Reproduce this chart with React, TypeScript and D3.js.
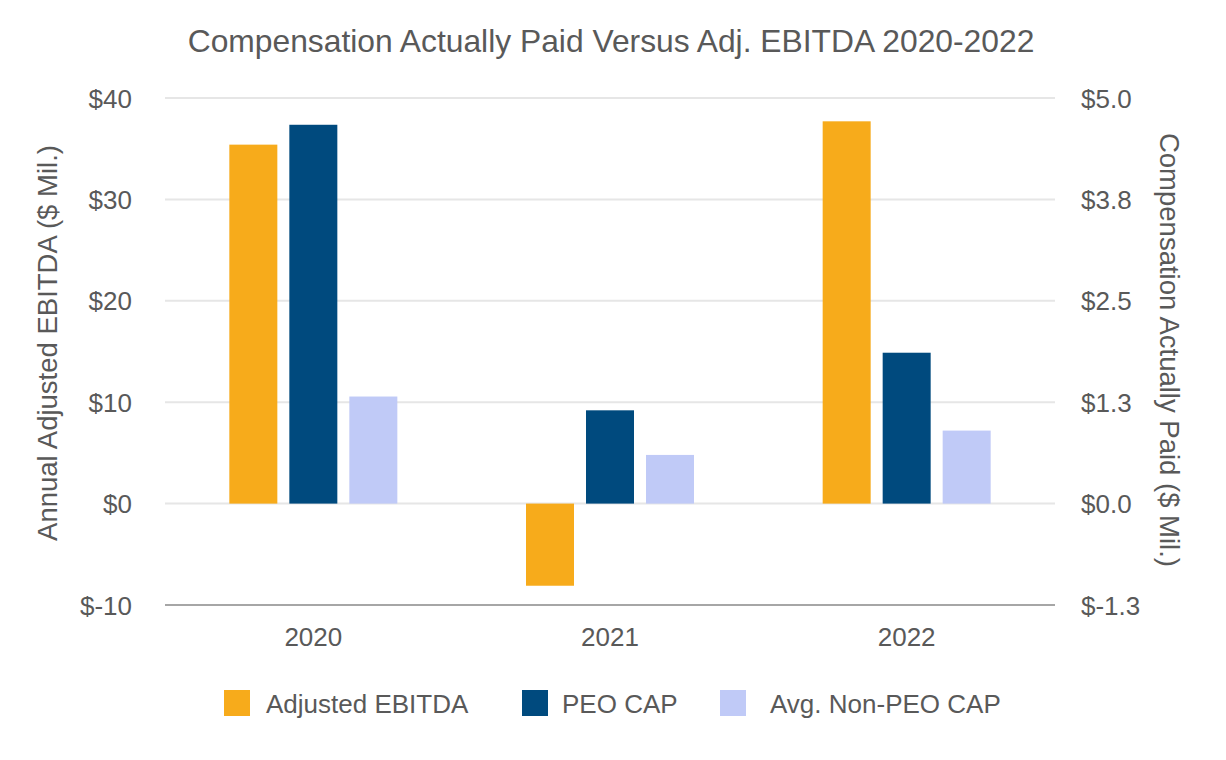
import React from "react";
import * as d3 from "d3";

const years = ["2020", "2021", "2022"];
const ebitda = [35.4, -8.1, 37.7]; // $ Mil., left axis
const peoCap = [4.67, 1.15, 1.86]; // $ Mil., right axis
const nonPeoCap = [1.32, 0.6, 0.9]; // $ Mil., right axis
const seriesNames = ["Adjusted EBITDA", "PEO CAP", "Avg. Non-PEO CAP"];
const seriesColors = ["#F7AB1B", "#004A7E", "#C0CAF7"];
const leftTicks = [-10, 0, 10, 20, 30, 40];
const rightTicks = [-1.25, 0, 1.25, 2.5, 3.75, 5];

const W = 1226;
const H = 760;
const M = { left: 165, right: 1055, top: 98, bottom: 605 };
const FONT = "'Liberation Sans', Arial, sans-serif";
const TXT = "#595959";

const fmtLeft = (v: number) => "$" + String(v);
const fmtRight = (v: number) => {
  const r = Math.round(Math.abs(v) * 10 + 0.001) / 10;
  return "$" + (v < 0 ? "-" : "") + r.toFixed(1);
};

export default function App() {
  const x0 = d3.scaleBand().domain(years).range([M.left, M.right]).padding(0);
  const x1 = d3.scaleBand().domain(seriesNames).range([-84, 84]).paddingInner(0.2).paddingOuter(0);
  const yL = d3.scaleLinear().domain([-10, 40]).range([M.bottom, M.top]);
  const yR = d3.scaleLinear().domain([-1.25, 5]).range([M.bottom, M.top]);

  const bars: { key: string; x: number; y0: number; y1: number; color: string }[] = [];
  years.forEach((yr, i) => {
    const cx = (x0(yr) as number) + x0.bandwidth() / 2;
    const vals = [
      { s: 0, top: yL(Math.max(ebitda[i], 0)), bot: yL(Math.min(ebitda[i], 0)) },
      { s: 1, top: yR(Math.max(peoCap[i], 0)), bot: yR(Math.min(peoCap[i], 0)) },
      { s: 2, top: yR(Math.max(nonPeoCap[i], 0)), bot: yR(Math.min(nonPeoCap[i], 0)) },
    ];
    vals.forEach((v) => {
      bars.push({
        key: yr + v.s,
        x: cx + (x1(seriesNames[v.s]) as number),
        y0: v.top,
        y1: v.bot,
        color: seriesColors[v.s],
      });
    });
  });

  const legendItems = [
    { sq: 224, tx: 266 },
    { sq: 522, tx: 562 },
    { sq: 720, tx: 770 },
  ];

  return (
    <svg width={W} height={H} style={{ position: "absolute", left: 0, top: 0, background: "#fff" }} fontFamily={FONT}>
      <rect x={0} y={0} width={W} height={H} fill="#fff" />
      <text x={611} y={52} textAnchor="middle" fontSize={31.8} fill={TXT}>
        Compensation Actually Paid Versus Adj. EBITDA 2020-2022
      </text>
      {leftTicks.slice(1).map((t) => (
        <line key={"g" + t} x1={M.left} x2={M.right} y1={yL(t)} y2={yL(t)} stroke="#E6E6E6" strokeWidth={2} />
      ))}
      {leftTicks.map((t) => (
        <text key={"l" + t} x={132} y={yL(t) + 9.5} textAnchor="end" fontSize={26} fill={TXT}>
          {fmtLeft(t)}
        </text>
      ))}
      {rightTicks.map((t) => (
        <text key={"r" + t} x={1081} y={yR(t) + 9.5} textAnchor="start" fontSize={26} fill={TXT}>
          {fmtRight(t)}
        </text>
      ))}
      {bars.map((b) => (
        <rect key={b.key} x={b.x} y={b.y0} width={x1.bandwidth()} height={b.y1 - b.y0} fill={b.color} />
      ))}
      <line x1={M.left} x2={M.right} y1={M.bottom} y2={M.bottom} stroke="#A6A6A6" strokeWidth={2} />
      {years.map((yr) => (
        <text key={"x" + yr} x={(x0(yr) as number) + x0.bandwidth() / 2} y={646} textAnchor="middle" fontSize={26} fill={TXT}>
          {yr}
        </text>
      ))}
      <text transform={`translate(57,343) rotate(-90)`} textAnchor="middle" fontSize={27.5} fill={TXT}>
        Annual Adjusted EBITDA ($ Mil.)
      </text>
      <text transform={`translate(1160,350) rotate(90)`} textAnchor="middle" fontSize={27.5} fill={TXT}>
        Compensation Actually Paid ($ Mil.)
      </text>
      {seriesNames.map((s, i) => (
        <g key={"lg" + s}>
          <rect x={legendItems[i].sq} y={690} width={26} height={26} fill={seriesColors[i]} />
          <text x={legendItems[i].tx} y={713} fontSize={26} fill={TXT}>
            {s}
          </text>
        </g>
      ))}
    </svg>
  );
}
